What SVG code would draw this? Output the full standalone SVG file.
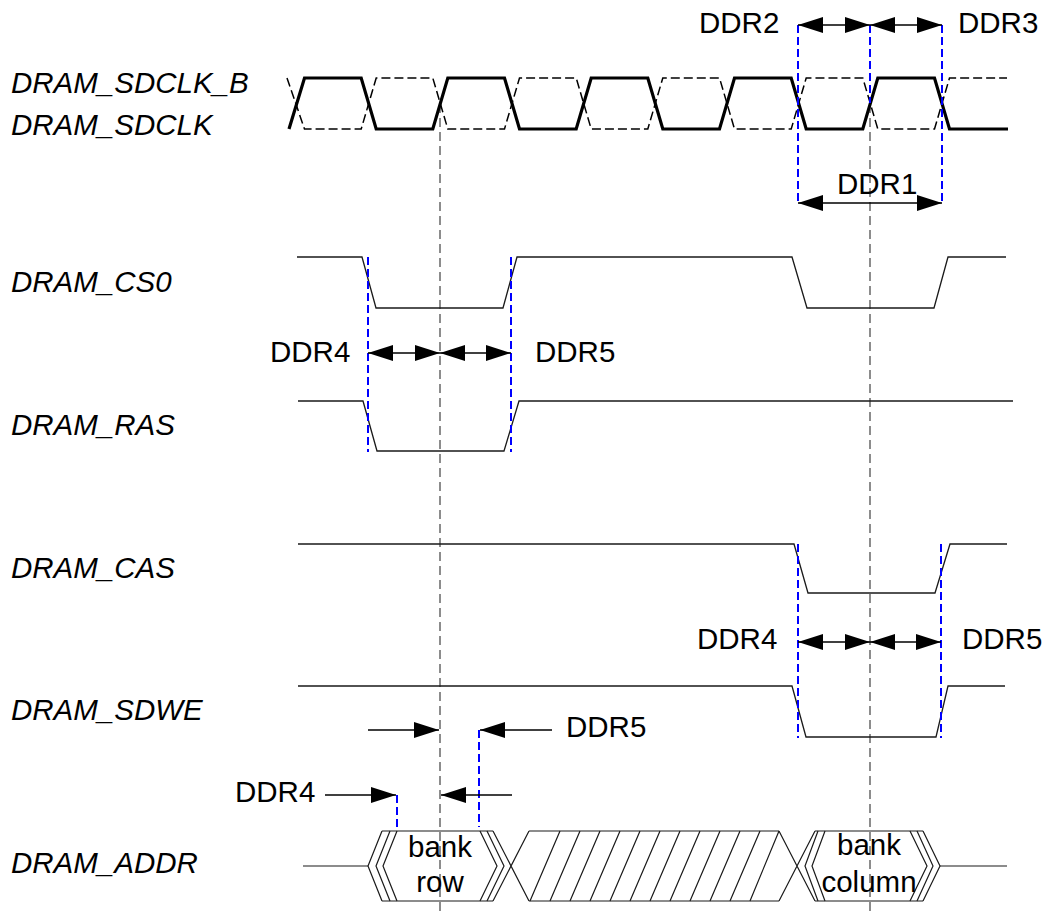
<svg xmlns="http://www.w3.org/2000/svg" width="1046" height="916" viewBox="0 0 1046 916">
<style>
.lbl{font-family:"Liberation Sans",Arial,sans-serif;font-size:29.5px;font-style:italic;fill:#000}
.txt{font-family:"Liberation Sans",Arial,sans-serif;font-size:29.5px;fill:#000}
.mid{text-anchor:middle}
.sig{fill:none;stroke:#1a1a1a;stroke-width:1.3;stroke-linejoin:miter}
.clk{fill:none;stroke:#000;stroke-width:3.2;stroke-linejoin:miter}
.clkb{fill:none;stroke:#000;stroke-width:1.5;stroke-dasharray:9,4}
.bus{fill:none;stroke:#1a1a1a;stroke-width:1.2}
.blue{fill:none;stroke:#0000ff;stroke-width:2;stroke-dasharray:8,4}
.gray{fill:none;stroke:#808080;stroke-width:1.8;stroke-dasharray:9,5}
.arr{fill:none;stroke:#000;stroke-width:1.3;marker-end:url(#ah)}
.darr{fill:none;stroke:#000;stroke-width:1.3;marker-start:url(#ah);marker-end:url(#ah)}
</style>
<defs>
<marker id="ah" viewBox="0 0 25 16" refX="25" refY="8" markerWidth="25" markerHeight="16" markerUnits="userSpaceOnUse" orient="auto-start-reverse">
<path d="M0,0 L25,8 L0,16 Z" fill="#000"/>
</marker>
</defs>
<rect width="1046" height="916" fill="#fff"/>

<g id="guides">
<path class="gray" d="M440,104 V916"/>
<path class="gray" d="M870,104 V916"/>
</g>

<g id="sdclk">
<text class="lbl" x="11" y="93">DRAM_SDCLK_B</text>
<text class="lbl" x="11" y="135">DRAM_SDCLK</text>
<path class="clkb" d="M287,78 L304.5,129 L361.2,129 L376.2,78 L432.8,78 L447.8,129 L504.5,129 L519.5,78 L576.2,78 L591.2,129 L647.8,129 L662.8,78 L719.5,78 L734.5,129 L791.2,129 L806.2,78 L862.8,78 L877.8,129 L934.5,129 L949.5,78 L1007,78"/>
<path class="clk" d="M289,129 L304.5,78 L361.2,78 L376.2,129 L432.8,129 L447.8,78 L504.5,78 L519.5,129 L576.2,129 L591.2,78 L647.8,78 L662.8,129 L719.5,129 L734.5,78 L791.2,78 L806.2,129 L862.8,129 L877.8,78 L934.5,78 L949.5,129 L1008,129"/>
</g>

<g id="cs0">
<text class="lbl" x="11" y="292">DRAM_CS0</text>
<path class="sig" d="M297,257 L362,257 L376,308 L503,308 L517,257 L792,257 L807,308 L934,308 L948,257 L1006,257"/>
</g>

<g id="ras">
<text class="lbl" x="11" y="435">DRAM_RAS</text>
<path class="sig" d="M298,401 L363,401 L377,451 L504,451 L519,401 L1013,401"/>
</g>

<g id="cas">
<text class="lbl" x="11" y="578">DRAM_CAS</text>
<path class="sig" d="M298,544 L794,544 L808,593 L935,593 L950,544 L1007,544"/>
</g>

<g id="sdwe">
<text class="lbl" x="11" y="720">DRAM_SDWE</text>
<path class="sig" d="M298,686 L792,686 L806,737 L936,737 L948,686 L1005,686"/>
</g>

<g id="addr">
<text class="lbl" x="11" y="873">DRAM_ADDR</text>
<path class="bus" d="M303,866 H368"/>
<path class="bus" d="M382,831 H493 M382,901 H493"/>
<path class="bus" d="M382,831 L368,866 L382,901 M390,831 L376,866 L390,901 M397,831 L383,866 L397,901"/>
<path class="bus" d="M480,831 L497,866 L480,901 M487,831 L504,866 L487,901"/>
<path class="bus" d="M493,831 L529,901 M493,901 L529,831"/>
<path class="bus" d="M529,831 H779 M529,901 H779"/>
<path class="bus" d="M560,831 L530,901 M580,831 L550,901 M600,831 L570,901 M620,831 L590,901 M640,831 L610,901 M660,831 L630,901 M680,831 L650,901 M700,831 L670,901 M720,831 L690,901 M740,831 L710,901 M760,831 L730,901 M779,831 L750,901"/>
<path class="bus" d="M779,831 L815,901 M779,901 L815,831"/>
<path class="bus" d="M815,831 H923 M815,901 H923"/>
<path class="bus" d="M818,831 L805,866 L818,901 M825,831 L812,866 L825,901"/>
<path class="bus" d="M910,831 L927,866 L910,901 M917,831 L933,866 L917,901 M923,831 L940,866 L923,901"/>
<path class="bus" d="M940,866 H1007"/>
<text class="txt mid" x="440" y="857">bank</text>
<text class="txt mid" x="440" y="892">row</text>
<text class="txt mid" x="869" y="855">bank</text>
<text class="txt mid" x="869" y="892">column</text>
</g>

<g id="connectors">
<path class="blue" d="M798,25 V205"/>
<path class="blue" d="M870,25 V103"/>
<path class="blue" d="M942,25 V205"/>
<path class="darr" d="M798,25 H870"/>
<path class="darr" d="M870,25 H942"/>
<path class="darr" d="M798,203 H942"/>
<text class="txt" x="699" y="33">DDR2</text>
<text class="txt" x="958" y="33">DDR3</text>
<text class="txt" x="837" y="194">DDR1</text>

<path class="blue" d="M368,257 V452"/>
<path class="blue" d="M511,257 V452"/>
<path class="darr" d="M368,353 H440"/>
<path class="darr" d="M440,353 H511"/>
<text class="txt" x="270" y="362">DDR4</text>
<text class="txt" x="535" y="362">DDR5</text>

<path class="blue" d="M798,544 V738"/>
<path class="blue" d="M941,544 V738"/>
<path class="darr" d="M798,642 H870"/>
<path class="darr" d="M870,642 H941"/>
<text class="txt" x="697" y="649">DDR4</text>
<text class="txt" x="962" y="649">DDR5</text>

<path class="arr" d="M368,730 H439"/>
<path class="arr" d="M552,730 H480"/>
<path class="blue" d="M479,730 V827"/>
<text class="txt" x="566" y="737">DDR5</text>
<path class="arr" d="M325,795 H396"/>
<path class="arr" d="M512,795 H441"/>
<path class="blue" d="M397,795 V828"/>
<text class="txt" x="235" y="802">DDR4</text>
</g>
</svg>
